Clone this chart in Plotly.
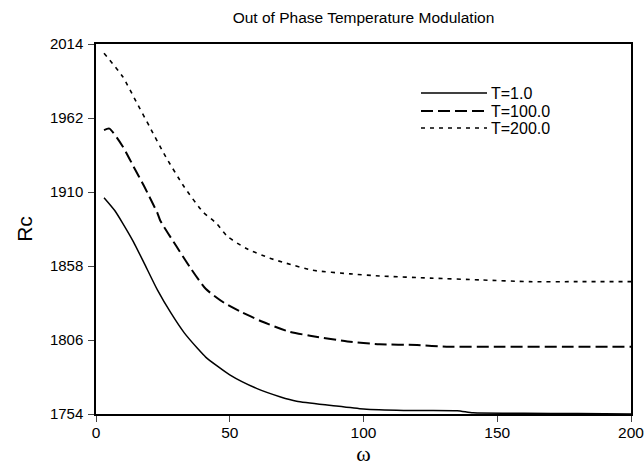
import plotly.graph_objects as go

# ---- data ----
x_t1 = [3, 7, 10, 14, 18, 23, 28, 33, 38, 41, 50, 60, 69, 75, 88, 100, 115, 135, 141, 160, 180, 200]
rc_t1 = [1906, 1897, 1888, 1875, 1860, 1841, 1825, 1811, 1800, 1794, 1781.5, 1772, 1766, 1763, 1760,
         1757.5, 1756.5, 1756.3, 1754.8, 1754.5, 1754.3, 1754]

x_t100 = [3, 5, 10, 14, 18, 23, 24, 30, 35, 41, 48, 54, 62, 72, 80, 94, 106, 120, 131, 150, 175, 200]
rc_t100 = [1953.5, 1954.5, 1942, 1928, 1914, 1895, 1890, 1872, 1857.5, 1842, 1832, 1826, 1819, 1812,
           1809, 1805, 1803, 1802.5, 1801.3, 1801.3, 1801.3, 1801.3]

x_t200 = [3, 10, 15, 20, 26, 33, 40, 45, 49, 56, 65, 71, 81, 95, 106, 125, 144, 162, 180, 200]
rc_t200 = [2007.5, 1991, 1973.5, 1956, 1935, 1913.5, 1896, 1888, 1879, 1870.5, 1863.5, 1860, 1855,
           1852.5, 1851, 1849.5, 1848.2, 1847, 1847, 1847]

series_names = ["T=1.0", "T=100.0", "T=200.0"]
y_ticks = [1754, 1806, 1858, 1910, 1962, 2014]
x_ticks = [0, 50, 100, 150, 200]

dashes = ["solid", "12px,5px", "4px,5px"]
widths = [1.5, 2.0, 1.6]

fig = go.Figure()
for xs, ys, name, d, w in zip([x_t1, x_t100, x_t200], [rc_t1, rc_t100, rc_t200], series_names, dashes, widths):
    fig.add_trace(go.Scatter(x=xs, y=ys, mode="lines", name=name, showlegend=False,
                             line=dict(color="black", width=w, dash=d, shape="spline", smoothing=0.6)))

# manual legend (lines + labels) in paper coordinates
L, R, T, B = 96, 13, 44, 56
W, H = 644, 470
pw, ph = W - L - R, H - T - B

def px(xp):
    return (xp - L) / pw

def py(yp):
    return (H - B - yp) / ph

leg_rows = [93, 111, 128]
for name, d, w, yr in zip(series_names, dashes, widths, leg_rows):
    fig.add_shape(type="line", xref="paper", yref="paper",
                  x0=px(421), x1=px(487), y0=py(yr), y1=py(yr),
                  line=dict(color="black", width=w, dash=d))
    fig.add_annotation(xref="paper", yref="paper", x=px(489), y=py(yr), text=name,
                       showarrow=False, xanchor="left", yanchor="middle",
                       font=dict(family="Liberation Sans, Arial", size=16, color="black"))

fig.update_layout(
    width=W, height=H,
    margin=dict(l=L, r=R, t=T, b=B),
    paper_bgcolor="white", plot_bgcolor="white",
    title=dict(text="Out of Phase Temperature Modulation", x=(L + pw / 2) / W, xanchor="center",
               y=1 - 18 / H, yanchor="middle",
               font=dict(family="Liberation Sans, Arial", size=15.5, color="black")),
    font=dict(family="Liberation Sans, Arial", size=15, color="black"),
    showlegend=False,
)
fig.update_xaxes(range=[0, 200], tickvals=x_ticks, ticks="outside", ticklen=6, tickwidth=1.2,
                 showline=True, linecolor="black", linewidth=1.5, mirror=True, showgrid=False,
                 zeroline=False, tickfont=dict(size=15.5), automargin=False,
                 ticklabeloverflow="allow", ticklabelstandoff=-2,
                 title=dict(text="ω", font=dict(family="Liberation Serif, Times New Roman", size=22),
                            standoff=2))
fig.update_yaxes(range=[1754, 2014], tickvals=y_ticks, ticks="outside", ticklen=6, tickwidth=1.2,
                 showline=True, linecolor="black", linewidth=1.5, mirror=True, showgrid=False,
                 zeroline=False, tickfont=dict(size=15), automargin=False,
                 ticklabeloverflow="allow", ticklabelstandoff=2,
                 title=dict(text="Rc", font=dict(family="Liberation Sans, Arial", size=21), standoff=12))

fig.write_html("out.html")
